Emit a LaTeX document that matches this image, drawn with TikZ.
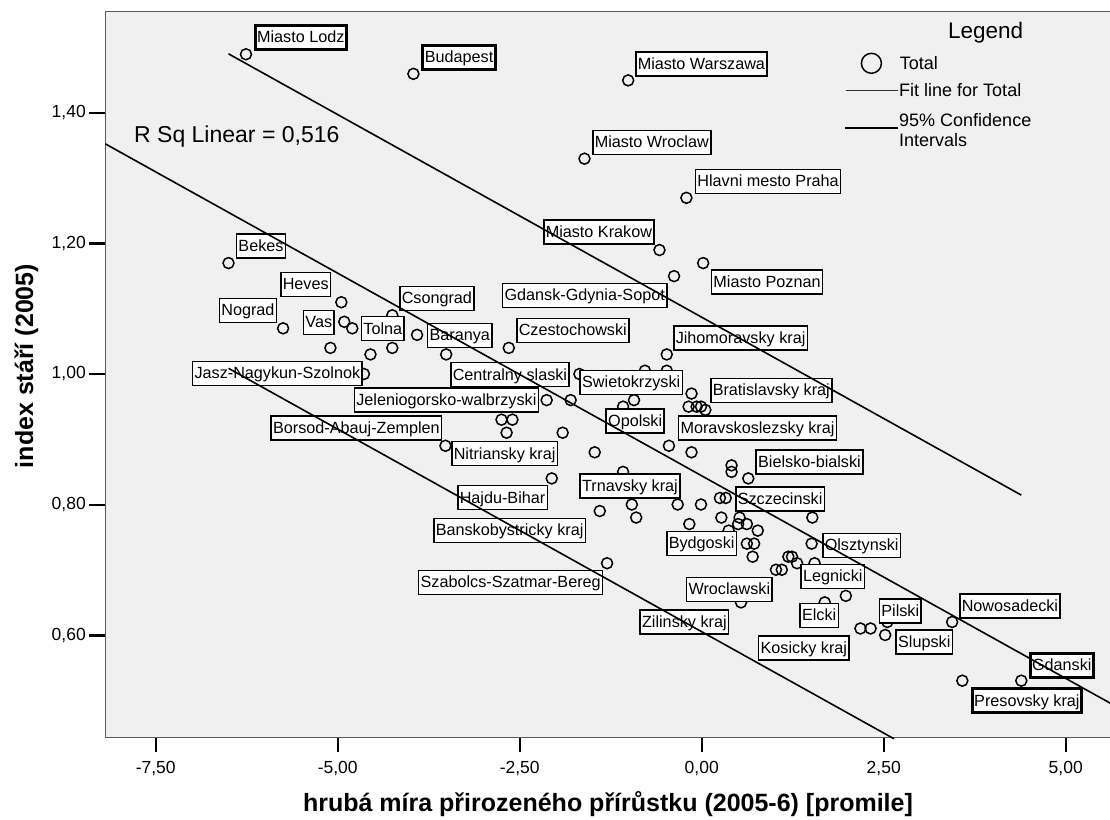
\documentclass[tikz,border=0pt]{standalone}
\usepackage{fontspec}
\setmainfont{Liberation Sans}
\usetikzlibrary{positioning}

\definecolor{plotbg}{HTML}{F0F0F0}
\definecolor{framegray}{HTML}{5A5A5A}
\newcommand\plotlbl{\fontsize{16.2}{19}\selectfont}
\newcommand\plotticks{\fontsize{17.5}{20}\selectfont}
\newcommand\plottitle{\fontsize{25}{28}\selectfont\bfseries}
\newcommand\plotleg{\fontsize{18}{21}\selectfont}

\tikzset{
  pt/.style={circle, draw, line width=1.5pt, minimum size=11pt, inner sep=0pt},
  lbl/.style={draw, fill=white, line width=1.5pt, anchor=west, inner xsep=2pt, inner ysep=0pt,
    text height=17.3pt, text depth=6.7pt, font=\plotlbl},
  lblthick/.style={lbl, line width=3pt},
  regline/.style={line width=1.6pt},
  axtick/.style={line width=2.4pt},
  ticklbl/.style={font=\plotticks, inner sep=0pt},
  legtext/.style={font=\plotleg, inner sep=0pt},
}

\begin{document}
\begin{tikzpicture}[x=1pt, y=-1pt]
  \useasboundingbox (0,0) rectangle (1110,819);
  % plot area
  \fill[plotbg] (105.3,11.7) rectangle (1110,737.7);
  \draw[framegray, line width=1.3pt] (1110,11.7) -- (105.3,11.7) -- (105.3,737.7) -- (1110,737.7);

  % axes
  \draw[axtick] (105.3,113) -- (89.3,113);
  \draw[axtick] (105.3,243.5) -- (89.3,243.5);
  \draw[axtick] (105.3,374) -- (89.3,374);
  \draw[axtick] (105.3,505) -- (89.3,505);
  \draw[axtick] (105.3,635.5) -- (89.3,635.5);
  \node[ticklbl, anchor=east] (y140) at (86,113) {1,40};
  \node[ticklbl, anchor=east] (y120) at (86,243.5) {1,20};
  \node[ticklbl, anchor=east] (y100) at (86,374) {1,00};
  \node[ticklbl, anchor=east] (y080) at (86,505) {0,80};
  \node[ticklbl, anchor=east] (y060) at (86,635.5) {0,60};
  \draw[axtick] (155.7,737.7) -- (155.7,752);
  \draw[axtick] (337.7,737.7) -- (337.7,752);
  \draw[axtick] (519.7,737.7) -- (519.7,752);
  \draw[axtick] (701.7,737.7) -- (701.7,752);
  \draw[axtick] (883.7,737.7) -- (883.7,752);
  \draw[axtick] (1065.7,737.7) -- (1065.7,752);
  \node[ticklbl, anchor=base] (xm750) at (155.7,773) {-7,50};
  \node[ticklbl, anchor=base] (xm500) at (337.7,773) {-5,00};
  \node[ticklbl, anchor=base] (xm250) at (519.7,773) {-2,50};
  \node[ticklbl, anchor=base] (x000) at (701.7,773) {0,00};
  \node[ticklbl, anchor=base] (x250) at (883.7,773) {2,50};
  \node[ticklbl, anchor=base] (x500) at (1065.7,773) {5,00};
  \node[font=\plottitle, anchor=base, inner sep=0pt] (xtitle) at (608,811.5) {hrubá míra přirozeného přírůstku (2005-6) [promile]};
  \node[font=\plottitle, anchor=base, inner sep=0pt, rotate=90] (ytitle) at (33,366) {index stáří (2005)};

  % data
  \begin{scope}[shift={(701.7,1026.5)}, x=72.8pt, y=652.5pt]
    \node[pt] (1) at (-6.26, 1.49) {};
    \node[pt] (2) at (-3.96, 1.46) {};
    \node[pt] (3) at (-1.01, 1.45) {};
    \node[pt] (4) at (-1.61, 1.33) {};
    \node[pt] (5) at (-0.21, 1.27) {};
    \node[pt] (6) at (-0.58, 1.19) {};
    \node[pt] (7) at (0.02, 1.17) {};
    \node[pt] (8) at (-0.38, 1.15) {};
    \node[pt] (9) at (-6.50, 1.17) {};
    \node[pt] (10) at (-4.95, 1.11) {};
    \node[pt] (11) at (-5.75, 1.07) {};
    \node[pt] (12) at (-4.91, 1.08) {};
    \node[pt] (13) at (-4.80, 1.07) {};
    \node[pt] (14) at (-4.25, 1.09) {};
    \node[pt] (15) at (-3.91, 1.06) {};
    \node[pt] (16) at (-3.51, 1.03) {};
    \node[pt] (17) at (-5.10, 1.04) {};
    \node[pt] (18) at (-4.55, 1.03) {};
    \node[pt] (19) at (-4.25, 1.04) {};
    \node[pt] (20) at (-2.65, 1.04) {};
    \node[pt] (21) at (-4.64, 1.00) {};
    \node[pt] (22) at (-2.13, 0.96) {};
    \node[pt] (23) at (-0.48, 1.03) {};
    \node[pt] (24) at (-0.14, 0.97) {};
    \node[pt] (25) at (-0.93, 0.96) {};
    \node[pt] (26) at (-0.78, 1.005) {};
    \node[pt] (27) at (-0.48, 1.005) {};
    \node[pt] (28) at (-1.68, 1.00) {};
    \node[pt] (29) at (-1.80, 0.96) {};
    \node[pt] (30) at (-1.08, 0.95) {};
    \node[pt] (31) at (-0.18, 0.95) {};
    \node[pt] (32) at (-0.07, 0.95) {};
    \node[pt] (33) at (-0.01, 0.95) {};
    \node[pt] (34) at (0.05, 0.945) {};
    \node[pt] (35) at (-2.75, 0.93) {};
    \node[pt] (36) at (-2.60, 0.93) {};
    \node[pt] (37) at (-2.68, 0.91) {};
    \node[pt] (38) at (-1.91, 0.91) {};
    \node[pt] (39) at (-3.52, 0.89) {};
    \node[pt] (40) at (-2.06, 0.84) {};
    \node[pt] (41) at (-1.47, 0.88) {};
    \node[pt] (42) at (-0.45, 0.89) {};
    \node[pt] (43) at (-0.14, 0.88) {};
    \node[pt] (44) at (0.41, 0.86) {};
    \node[pt] (45) at (0.41, 0.85) {};
    \node[pt] (46) at (0.64, 0.84) {};
    \node[pt] (47) at (-1.08, 0.85) {};
    \node[pt] (48) at (0.25, 0.81) {};
    \node[pt] (49) at (0.33, 0.81) {};
    \node[pt] (50) at (-0.96, 0.80) {};
    \node[pt] (51) at (-0.33, 0.80) {};
    \node[pt] (52) at (-0.01, 0.80) {};
    \node[pt] (53) at (-1.40, 0.79) {};
    \node[pt] (54) at (-0.90, 0.78) {};
    \node[pt] (55) at (1.52, 0.78) {};
    \node[pt] (56) at (0.27, 0.78) {};
    \node[pt] (57) at (0.52, 0.78) {};
    \node[pt] (58) at (-0.17, 0.77) {};
    \node[pt] (59) at (0.50, 0.77) {};
    \node[pt] (60) at (0.62, 0.77) {};
    \node[pt] (61) at (0.37, 0.76) {};
    \node[pt] (62) at (0.77, 0.76) {};
    \node[pt] (63) at (0.62, 0.74) {};
    \node[pt] (64) at (0.72, 0.74) {};
    \node[pt] (65) at (0.70, 0.72) {};
    \node[pt] (66) at (1.51, 0.74) {};
    \node[pt] (67) at (1.19, 0.72) {};
    \node[pt] (68) at (1.24, 0.72) {};
    \node[pt] (69) at (1.31, 0.71) {};
    \node[pt] (70) at (1.55, 0.71) {};
    \node[pt] (71) at (1.02, 0.70) {};
    \node[pt] (72) at (1.10, 0.70) {};
    \node[pt] (73) at (-1.30, 0.71) {};
    \node[pt] (74) at (0.54, 0.65) {};
    \node[pt] (75) at (1.98, 0.66) {};
    \node[pt] (76) at (1.69, 0.65) {};
    \node[pt] (77) at (2.55, 0.62) {};
    \node[pt] (78) at (3.44, 0.62) {};
    \node[pt] (79) at (2.18, 0.61) {};
    \node[pt] (80) at (2.32, 0.61) {};
    \node[pt] (81) at (2.52, 0.60) {};
    \node[pt] (82) at (3.58, 0.53) {};
    \node[pt] (83) at (4.39, 0.53) {};
  \end{scope}

  % point labels
  \node[lblthick] (lodz) at (253.6,37.5) {Miasto Lodz};
  \node[lblthick] (budapest) at (421.4,57) {Budapest};
  \node[lbl] (warszawa) at (635,64.2) {Miasto Warszawa};
  \node[lbl] (wroclaw) at (592,142.5) {Miasto Wroclaw};
  \node[lbl] (praha) at (694.6,181.3) {Hlavni mesto Praha};
  \node[lbl] (krakow) at (543,232) {Miasto Krakow};
  \node[lbl] (poznan) at (710.7,282.2) {Miasto Poznan};
  \node[lbl] (gdansk) at (501.8,295.3) {Gdansk-Gdynia-Sopot};
  \node[lbl] (bekes) at (235.7,246) {Bekes};
  \node[lbl] (heves) at (280,284.3) {Heves};
  \node[lbl] (nograd) at (218.6,310.3) {Nograd};
  \node[lbl] (vas) at (302.7,322.3) {Vas};
  \node[lbl] (csongrad) at (399,298.3) {Csongrad};
  \node[lbl] (tolna) at (360.7,328.7) {Tolna};
  \node[lbl] (baranya) at (426.8,335.5) {Baranya};
  \node[lbl] (czesto) at (516,330.5) {Czestochowski};
  \node[lbl] (jasz) at (191.8,373.3) {Jasz-Nagykun-Szolnok};
  \node[lbl] (slaski) at (450,374.7) {Centralny slaski};
  \node[lbl] (jelenia) at (353.6,400.2) {Jeleniogorsko-walbrzyski};
  \node[lbl] (jihomor) at (673,338) {Jihomoravsky kraj};
  \node[lbl] (swieto) at (579.4,382.3) {Swietokrzyski};
  \node[lbl] (bratisl) at (710,390.3) {Bratislavsky kraj};
  \node[lbl] (borsod) at (270.4,428) {Borsod-Abauj-Zemplen};
  \node[lbl] (nitra) at (451,453.7) {Nitriansky kraj};
  \node[lbl] (opolski) at (605.4,420.8) {Opolski};
  \node[lbl] (moravsko) at (677.8,427.8) {Moravskoslezsky kraj};
  \node[lbl] (bielsko) at (755.4,462) {Bielsko-bialski};
  \node[lbl] (hajdu) at (457,497.7) {Hajdu-Bihar};
  \node[lbl] (trnava) at (579.3,485.8) {Trnavsky kraj};
  \node[lbl] (szczecin) at (735,498.8) {Szczecinski};
  \node[lbl] (bansko) at (433,530.5) {Banskobystricky kraj};
  \node[lbl] (bydgoski) at (666,543.3) {Bydgoski};
  \node[lbl] (olsztyn) at (822,545.3) {Olsztynski};
  \node[lbl] (legnicki) at (800.3,576.5) {Legnicki};
  \node[lbl] (szabolcs) at (417.9,582.5) {Szabolcs-Szatmar-Bereg};
  \node[lbl] (wroclawski) at (685.8,589.5) {Wroclawski};
  \node[lbl] (elcki) at (799.3,615.3) {Elcki};
  \node[lbl] (pilski) at (878.6,611) {Pilski};
  \node[lbl] (nowosad) at (959,606.2) {Nowosadecki};
  \node[lbl] (slupski) at (895.4,642) {Slupski};
  \node[lbl] (zilina) at (639.3,622) {Zilinsky kraj};
  \node[lbl] (kosice) at (757.9,648) {Kosicky kraj};
  \node[lblthick] (gdanski) at (1028.6,665) {Gdanski};
  \node[lblthick] (presov) at (970.7,700.8) {Presovsky kraj};

  % fit line and intervals
  \begin{scope}[shift={(701.7,1026.5)}, x=72.8pt, y=652.5pt]
    \draw[regline] (-8.19,1.3526) -- (5.61,0.4956);
    \draw[regline] (-6.50,1.4907) -- (4.39,0.8144);
    \draw[regline] (-6.50,1.0087) -- (2.641,0.441);
  \end{scope}
  \node[font=\fontsize{23}{26}\selectfont, anchor=base west, inner sep=0pt] (rsq) at (134,142.3) {R Sq Linear = 0,516};

  % legend
  \node[font=\fontsize{22.5}{25}\selectfont, inner sep=0pt] (legtitle) at (985.6,33) {Legend};
  \node[pt, minimum size=20pt, line width=1.5pt] (legcirc) at (871.4,63.3) {};
  \node[legtext, right=17.5pt of legcirc] (legtotal) {Total};
  \draw[line width=1pt, black!80] (845.7,90) -- (898,90);
  \node[legtext, anchor=base west] (legfit) at (899,96.5) {Fit line for Total};
  \draw[line width=2pt] (845,128.3) -- (898,128.3);
  \node[legtext, anchor=base west] (legci) at (899,126) {95\% Confidence};
  \node[legtext, anchor=base west] (legint) at (899,146.5) {Intervals};
\end{tikzpicture}
\end{document}
